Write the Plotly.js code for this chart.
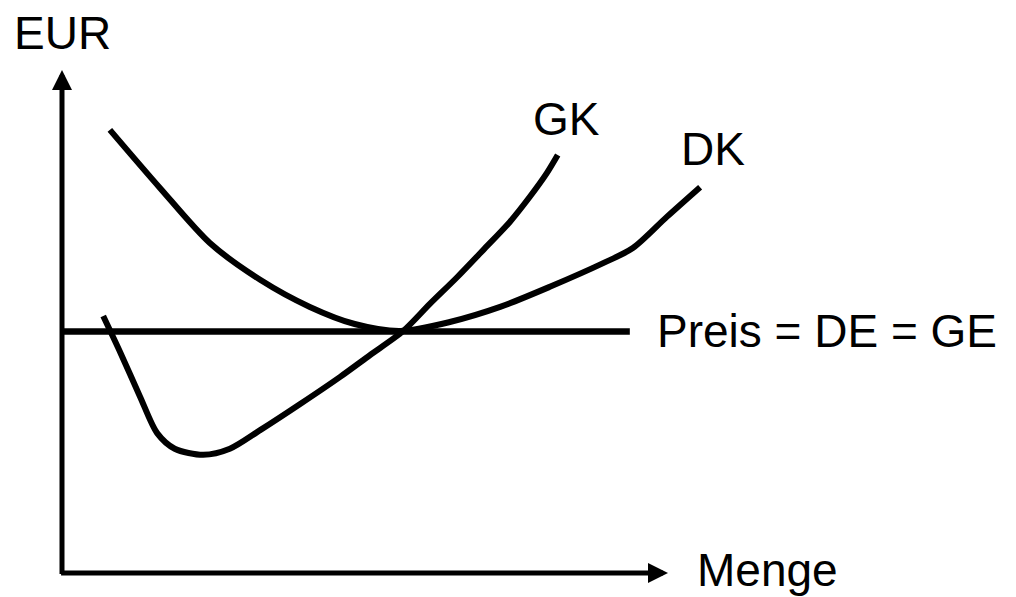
<!DOCTYPE html>
<html>
<head>
<meta charset="utf-8">
<script src="https://cdn.plot.ly/plotly-3.0.1.min.js"></script>
<style>html,body{margin:0;padding:0;background:#fff;}#chart{width:1016px;height:597px;}</style>
</head>
<body>
<div id="chart"></div>
<script>
// Menge (x) and EUR (y) in abstract units
const dkX = [0.79, 1.62, 2.44, 3.27, 4.09, 4.83, 5.58, 6.40, 7.23, 8.05, 8.93, 9.42, 9.98, 10.53];
const dkY = [8.81, 7.65, 6.56, 5.83, 5.29, 4.95, 4.81, 4.99, 5.29, 5.69, 6.16, 6.46, 7.08, 7.67];
const gkX = [0.68, 0.96, 1.29, 1.57, 1.86, 2.33, 2.77, 3.27, 3.93, 4.59, 5.08, 5.63, 6.07, 6.52, 6.95, 7.39, 7.72, 8.00, 8.18];
const gkY = [5.11, 4.39, 3.50, 2.78, 2.47, 2.35, 2.47, 2.84, 3.36, 3.90, 4.33, 4.81, 5.35, 5.88, 6.42, 6.98, 7.48, 7.95, 8.31];
const priceX = [0, 9.37];
const priceY = [4.80, 4.80];
const axisMaxX = 10;
const axisMaxY = 10;
const labels = {
  yAxis: "EUR",
  xAxis: "Menge",
  gk: "GK",
  dk: "DK",
  price: "Preis = DE = GE"
};

const lineStyle = {color: "#000", width: 6, shape: "spline", smoothing: 0.8};
const traces = [
  {x: dkX, y: dkY, mode: "lines", line: lineStyle, hoverinfo: "skip", cliponaxis: false},
  {x: gkX, y: gkY, mode: "lines", line: lineStyle, hoverinfo: "skip", cliponaxis: false},
  {x: priceX, y: priceY, mode: "lines", line: {color: "#000", width: 6.5}, hoverinfo: "skip", cliponaxis: false}
];

const font = {family: "Liberation Sans, Arial, sans-serif", size: 46, color: "#000"};
const annotations = [
  // y axis arrow
  {x: 0, y: axisMaxY, ax: 0, ay: -0.05, xref: "x", yref: "y", axref: "x", ayref: "y",
   showarrow: true, arrowhead: 2, arrowsize: 0.8, arrowwidth: 5, arrowcolor: "#000", text: ""},
  // x axis arrow
  {x: axisMaxX, y: 0, ax: -0.04, ay: 0, xref: "x", yref: "y", axref: "x", ayref: "y",
   showarrow: true, arrowhead: 2, arrowsize: 0.8, arrowwidth: 5, arrowcolor: "#000", text: ""},
  {x: 0, y: 10.74, xref: "x", yref: "y", text: labels.yAxis, showarrow: false, font: font, xanchor: "center", yanchor: "middle"},
  {x: 10.45, y: 0.05, xref: "x", yref: "y", text: labels.xAxis, showarrow: false, font: font, xanchor: "left", yanchor: "middle"},
  {x: 8.33, y: 9.02, xref: "x", yref: "y", text: labels.gk, showarrow: false, font: font, xanchor: "center", yanchor: "middle"},
  {x: 10.74, y: 8.43, xref: "x", yref: "y", text: labels.dk, showarrow: false, font: font, xanchor: "center", yanchor: "middle"},
  {x: 9.79, y: 4.82, xref: "x", yref: "y", text: labels.price, showarrow: false, font: font, xanchor: "left", yanchor: "middle"}
];

const layout = {
  width: 1016, height: 597,
  margin: {l: 62, r: 0, t: 0, b: 24},
  paper_bgcolor: "#fff", plot_bgcolor: "#fff",
  showlegend: false,
  xaxis: {range: [0, 954 / 60.6], showgrid: false, zeroline: false, showticklabels: false, ticks: "", showline: false, fixedrange: true},
  yaxis: {range: [0, 573 / 50.3], showgrid: false, zeroline: false, showticklabels: false, ticks: "", showline: false, fixedrange: true},
  annotations: annotations
};

Plotly.newPlot("chart", traces, layout, {displayModeBar: false, staticPlot: true});
</script>
</body>
</html>
